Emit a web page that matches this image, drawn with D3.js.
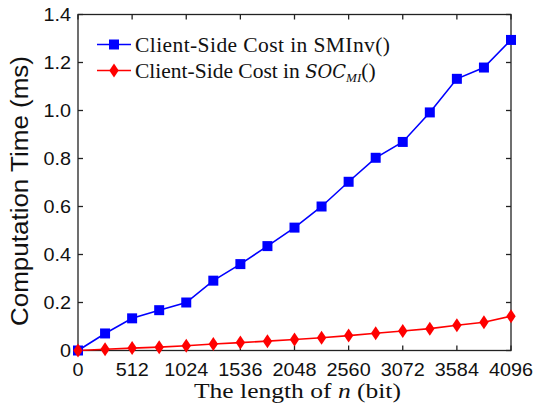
<html>
<head>
<script src="https://d3js.org/d3.v7.min.js"></script>
<style>
body { margin: 0; background: #fff; }
</style>
</head>
<body>
<script>
// bit lengths and computation times (ms)
var bits = [0, 256, 512, 768, 1024, 1280, 1536, 1792, 2048, 2304, 2560, 2816, 3072, 3328, 3584, 3840, 4096];
var smInv = [0, 0.071, 0.134, 0.168, 0.200, 0.291, 0.360, 0.435, 0.512, 0.600, 0.703, 0.803, 0.869, 0.992, 1.132, 1.179, 1.294];
var socMI = [0, 0.005, 0.010, 0.014, 0.020, 0.027, 0.033, 0.039, 0.046, 0.053, 0.062, 0.072, 0.081, 0.091, 0.105, 0.118, 0.143];
var xTicks = [0, 512, 1024, 1536, 2048, 2560, 3072, 3584, 4096];
var yTicks = [0, 0.2, 0.4, 0.6, 0.8, 1.0, 1.2, 1.4];

var w = 545, h = 411;
var plotLeft = 78, plotRight = 511, plotTop = 14.5, plotBottom = 350.5;
var sans = "'Liberation Sans', Arial, Helvetica, sans-serif";
var serif = "'Liberation Serif', 'Times New Roman', serif";

var svg = d3.select("body").append("svg").attr("width", w).attr("height", h);

var x = d3.scaleLinear().domain([0, 4096]).range([plotLeft, plotRight]);
var y = d3.scaleLinear().domain([0, 1.4]).range([plotBottom, plotTop]);

// frame
svg.append("rect")
  .attr("x", x(0)).attr("y", y(1.4))
  .attr("width", x(4096) - x(0)).attr("height", y(0) - y(1.4))
  .attr("fill", "none").attr("stroke", "#222").attr("stroke-width", 1.3);

// inward ticks on all four sides
var tl = 5;
xTicks.forEach(function(t){
  svg.append("line").attr("x1", x(t)).attr("x2", x(t)).attr("y1", y(0)).attr("y2", y(0) - tl).attr("stroke", "#222").attr("stroke-width", 1.3);
  svg.append("line").attr("x1", x(t)).attr("x2", x(t)).attr("y1", y(1.4)).attr("y2", y(1.4) + tl).attr("stroke", "#222").attr("stroke-width", 1.3);
  svg.append("text").attr("transform", "translate(" + x(t) + "," + (y(0) + 25.5) + ") scale(1.1,1)")
    .attr("text-anchor", "middle").attr("font-family", sans)
    .attr("font-size", 18).attr("fill", "#111").text(t);
});
yTicks.forEach(function(t){
  svg.append("line").attr("x1", x(0)).attr("x2", x(0) + tl).attr("y1", y(t)).attr("y2", y(t)).attr("stroke", "#222").attr("stroke-width", 1.3);
  svg.append("line").attr("x1", x(4096)).attr("x2", x(4096) - tl).attr("y1", y(t)).attr("y2", y(t)).attr("stroke", "#222").attr("stroke-width", 1.3);
  svg.append("text").attr("transform", "translate(" + (x(0) - 7) + "," + y(t) + ") scale(1.1,1)").attr("dy", "0.36em")
    .attr("text-anchor", "end").attr("font-family", sans)
    .attr("font-size", 18).attr("fill", "#111").text(t === 0 ? "0" : t.toFixed(1));
});

// axis titles
svg.append("text")
  .attr("transform", "translate(28,191) rotate(-90)")
  .attr("text-anchor", "middle").attr("font-family", sans)
  .attr("font-size", 23).attr("fill", "#111")
  .attr("textLength", 270).attr("lengthAdjust", "spacingAndGlyphs")
  .text("Computation Time (ms)");

var xt = svg.append("text")
  .attr("x", 297.5).attr("y", 398)
  .attr("text-anchor", "middle").attr("font-family", serif)
  .attr("font-size", 21.5).attr("fill", "#111")
  .attr("textLength", 207).attr("lengthAdjust", "spacingAndGlyphs");
xt.append("tspan").text("The length of ");
xt.append("tspan").attr("font-style", "italic").text("n");
xt.append("tspan").text(" (bit)");

// lines
var pts1 = bits.map(function(b, i){ return [b, smInv[i]]; });
var pts2 = bits.map(function(b, i){ return [b, socMI[i]]; });
var line = d3.line().x(function(d){ return x(d[0]); }).y(function(d){ return y(d[1]); });

svg.append("path").attr("d", line(pts1)).attr("fill", "none").attr("stroke", "#0000ff").attr("stroke-width", 1.6);
svg.append("path").attr("d", line(pts2)).attr("fill", "none").attr("stroke", "#ff0000").attr("stroke-width", 1.6);

var sq = d3.symbol().type(d3.symbolSquare).size(100);
var diamond = "M0,-7L4.7,0L0,7L-4.7,0Z";

svg.selectAll(".m1").data(pts1).enter().append("path")
  .attr("d", sq).attr("transform", function(d){ return "translate(" + x(d[0]) + "," + y(d[1]) + ")"; })
  .attr("fill", "#0000ff");
svg.selectAll(".m2").data(pts2).enter().append("path")
  .attr("d", diamond).attr("transform", function(d){ return "translate(" + x(d[0]) + "," + y(d[1]) + ")"; })
  .attr("fill", "#ff0000");

// legend
var lx1 = 97, lx2 = 131, ly1 = 44.5, ly2 = 70.5;
svg.append("line").attr("x1", lx1).attr("x2", lx2).attr("y1", ly1).attr("y2", ly1).attr("stroke", "#0000ff").attr("stroke-width", 1.6);
svg.append("path").attr("d", sq).attr("transform", "translate(" + (lx1 + lx2) / 2 + "," + ly1 + ")").attr("fill", "#0000ff");
svg.append("line").attr("x1", lx1).attr("x2", lx2).attr("y1", ly2).attr("y2", ly2).attr("stroke", "#ff0000").attr("stroke-width", 1.6);
svg.append("path").attr("d", diamond).attr("transform", "translate(" + (lx1 + lx2) / 2 + "," + ly2 + ")").attr("fill", "#ff0000");

svg.append("text").attr("x", 135).attr("y", ly1).attr("dy", "0.34em")
  .attr("font-family", serif).attr("font-size", 21.5).attr("fill", "#111")
  .attr("textLength", 255).attr("lengthAdjust", "spacing")
  .text("Client-Side Cost in SMInv()");
var lt = svg.append("text").attr("x", 135).attr("y", ly2).attr("dy", "0.34em")
  .attr("font-family", serif).attr("font-size", 21.5).attr("fill", "#111");
lt.append("tspan").text("Client-Side Cost in ");
lt.append("tspan").attr("font-style", "italic").attr("font-family", "'DejaVu Serif', serif").attr("font-size", 18).text("SOC");
lt.append("tspan").attr("font-style", "italic").attr("font-size", 13).attr("dy", 4).text("MI");
lt.append("tspan").attr("dy", -4).text("()");
</script>
</body>
</html>
